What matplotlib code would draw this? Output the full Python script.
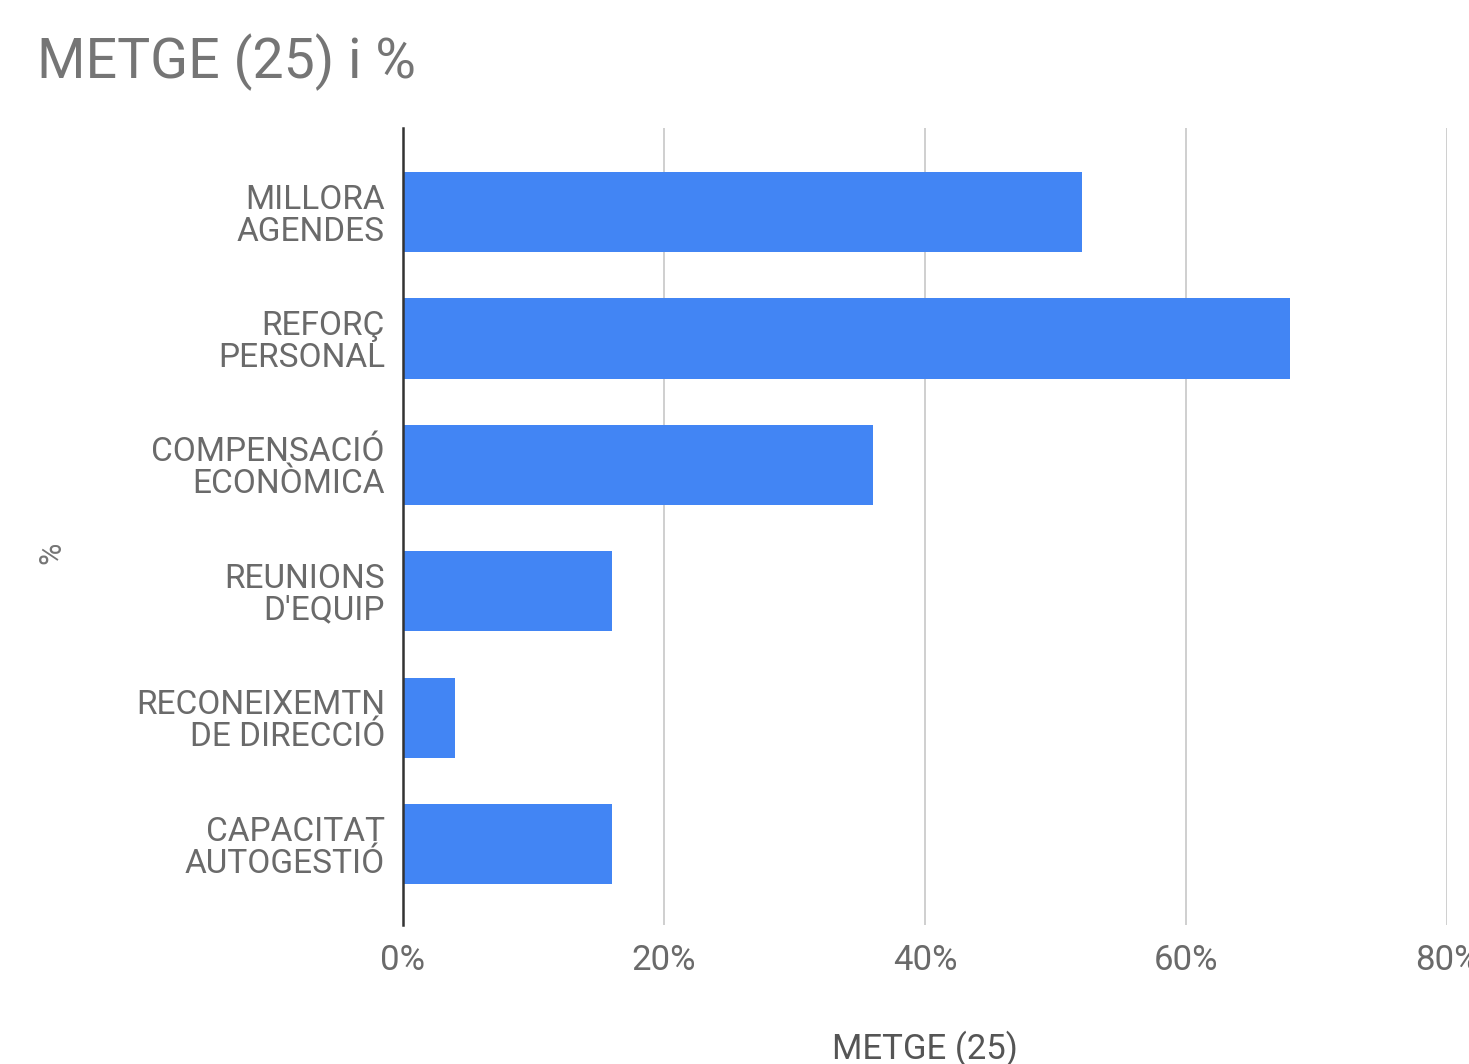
import matplotlib
matplotlib.use("Agg")
import matplotlib.pyplot as plt
from matplotlib.ticker import PercentFormatter

plt.rcParams['font.family'] = ['Roboto', 'DejaVu Sans']

categories = ["MILLORA\nAGENDES", "REFORÇ\nPERSONAL", "COMPENSACIÓ\nECONÒMICA",
              "REUNIONS\nD'EQUIP", "RECONEIXEMTN\nDE DIRECCIÓ", "CAPACITAT\nAUTOGESTIÓ"]
values = [52, 68, 36, 16, 4, 16]
x_ticks = [0, 20, 40, 60, 80]

title = "METGE (25) i %"
x_label = "METGE (25)"
y_label = "%"

bar_color = "#4285F4"
text_grey = "#757575"
tick_grey = "#6a6a6a"

fig = plt.figure(figsize=(14.69, 10.64), dpi=100)
ax = fig.add_axes([0.2743, 0.1306, 0.7107, 0.7491])

pos = list(range(len(categories)))
ax.barh(pos, values, height=0.635, color=bar_color, zorder=3)

ax.set_xlim(0, 80)
ax.set_ylim(len(categories) - 1 + 0.64, -0.665)
ax.set_xticks(x_ticks)
ax.xaxis.set_major_formatter(PercentFormatter(decimals=0))
ax.set_yticks(pos)
ax.set_yticklabels(categories, linespacing=1.0, ha='right')

ax.tick_params(axis='x', length=0, pad=14, labelsize=25, labelcolor=tick_grey)
ax.tick_params(axis='y', length=0, pad=13, labelsize=24, labelcolor=tick_grey)

ax.grid(axis='x', color="#cccccc", linewidth=1.3, zorder=0)
for s in ['top', 'right', 'bottom']:
    ax.spines[s].set_visible(False)
ax.spines['left'].set_color("#333333")
ax.spines['left'].set_linewidth(1.8)
ax.spines['left'].set_zorder(4)

ax.set_xlabel(x_label, fontsize=25, color="#555555", labelpad=38)
ax.set_ylabel(y_label, fontsize=22, color=text_grey)
ax.yaxis.set_label_coords(-0.322, 0.467)

fig.text(0.025, 1 - 78 / 1064, title, fontsize=40, color=text_grey, va='baseline')

fig.savefig("out.png", dpi=100)
